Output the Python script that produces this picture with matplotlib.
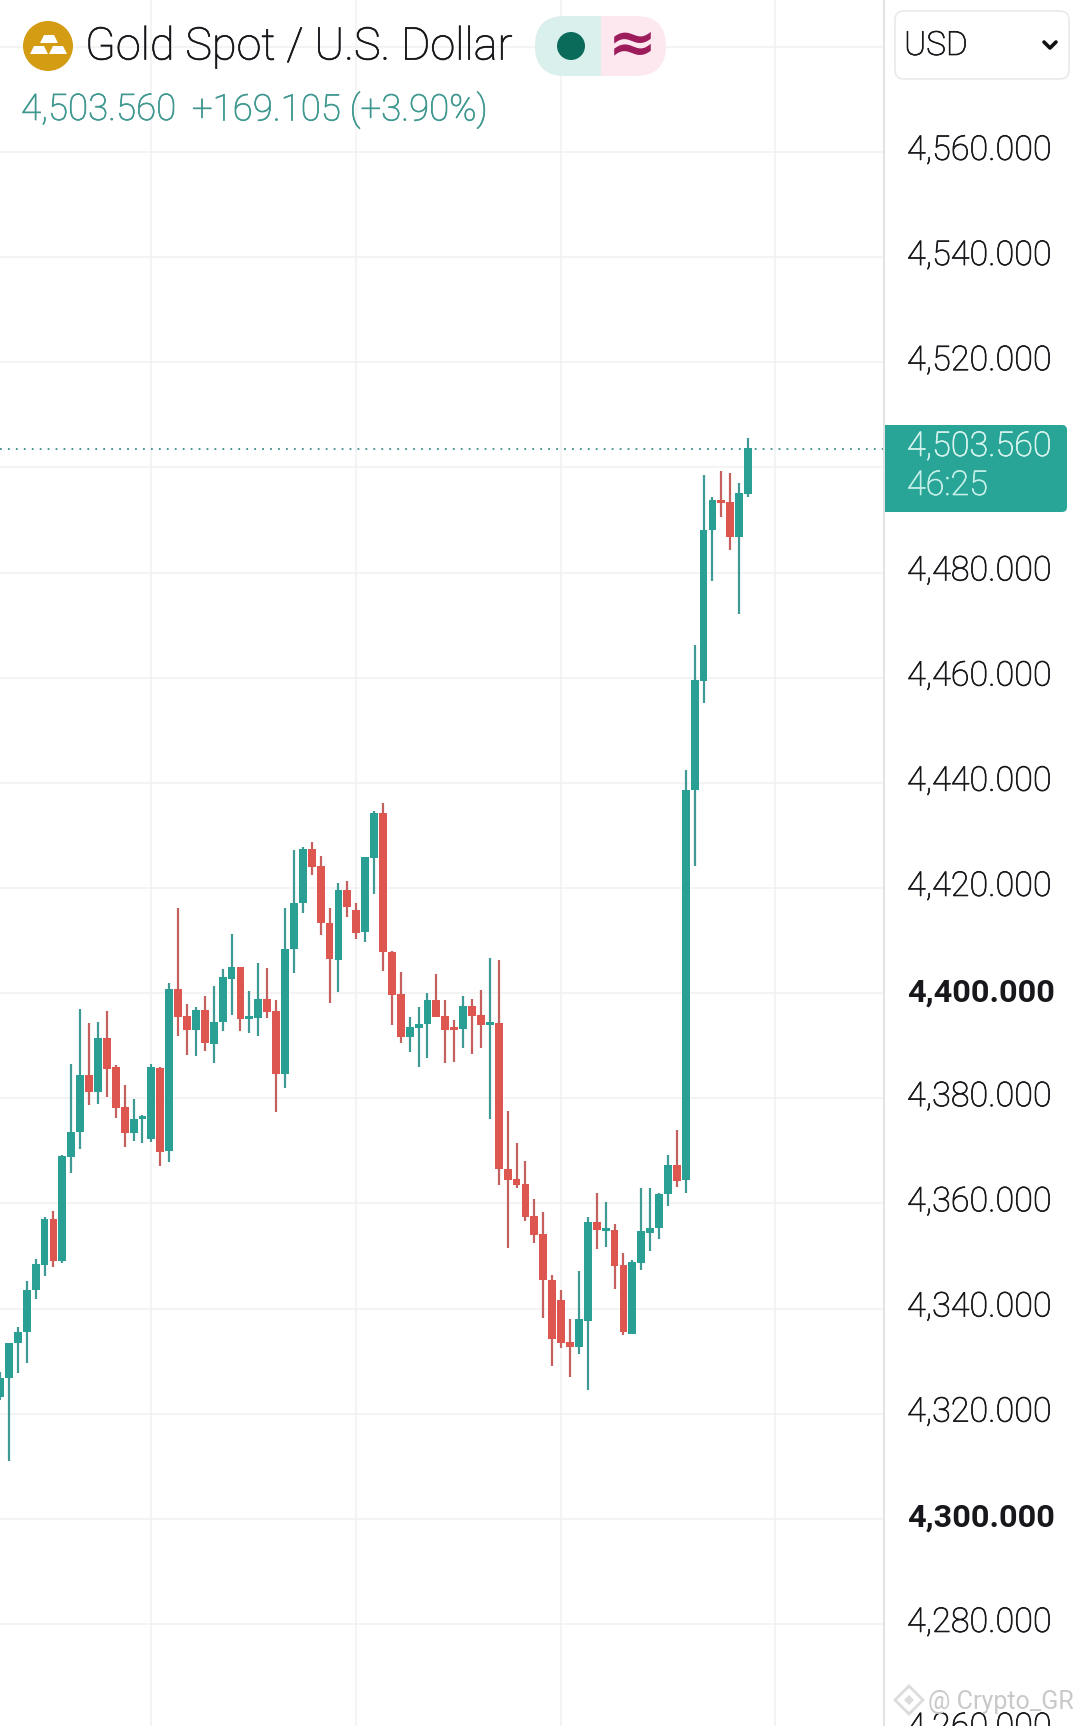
import matplotlib
matplotlib.use("Agg")
import matplotlib.pyplot as plt
import matplotlib.patheffects as pe
from matplotlib.patches import Circle, Ellipse, FancyBboxPatch, Polygon, Rectangle

plt.rcParams['font.family'] = ['Roboto', 'DejaVu Sans']

# one entry per candle
opens = [4323.2, 4326.7, 4333.4, 4335.5, 4343.5, 4348.2, 4357.0, 4349.1, 4368.9, 4373.5,
         4384.4, 4381.1, 4391.4, 4385.9, 4378.3, 4373.3, 4376.0, 4372.2, 4385.8, 4370.0,
         4400.7, 4395.6, 4392.9, 4396.8, 4390.4, 4394.6, 4402.7, 4404.9, 4395.0, 4395.3,
         4398.8, 4396.6, 4384.7, 4408.4, 4417.2, 4427.4, 4424.1, 4413.4, 4406.3, 4419.7,
         4415.9, 4411.7, 4425.7, 4434.3, 4407.8, 4399.8, 4391.7, 4393.4, 4394.2, 4398.7,
         4395.6, 4393.3, 4393.1, 4397.5, 4395.9, 4393.9, 4394.4, 4366.5, 4364.6, 4363.7,
         4357.6, 4354.1, 4345.4, 4341.7, 4333.7, 4332.7, 4337.7, 4356.5, 4354.8, 4354.9,
         4348.3, 4335.2, 4348.7, 4354.4, 4355.4, 4361.7, 4367.3, 4364.4, 4438.6, 4459.3,
         4488.0, 4493.8, 4493.4, 4486.7, 4494.9]
closes = [4326.7, 4333.4, 4335.5, 4343.5, 4348.4, 4357.0, 4349.1, 4369.0, 4373.5, 4384.4,
          4381.1, 4391.4, 4385.6, 4378.2, 4373.3, 4376.0, 4376.6, 4385.9, 4369.8, 4400.7,
          4395.5, 4392.9, 4396.8, 4390.6, 4394.6, 4403.0, 4404.9, 4395.0, 4395.4, 4398.8,
          4396.5, 4384.7, 4408.3, 4417.2, 4427.5, 4424.0, 4413.4, 4406.5, 4419.7, 4416.4,
          4411.5, 4425.8, 4434.3, 4407.9, 4399.7, 4391.7, 4393.5, 4394.2, 4398.7, 4395.4,
          4393.0, 4393.0, 4397.5, 4395.7, 4394.0, 4394.4, 4366.5, 4364.5, 4363.5, 4357.5,
          4354.0, 4345.4, 4334.3, 4333.5, 4332.7, 4338.0, 4356.5, 4354.9, 4355.1, 4348.1,
          4335.5, 4348.8, 4354.7, 4355.4, 4361.8, 4367.3, 4364.3, 4438.6, 4459.6, 4488.1,
          4493.8, 4493.2, 4486.8, 4495.1, 4503.6]
highs = [4328.0, 4333.4, 4336.5, 4345.2, 4349.5, 4357.5, 4358.6, 4369.2, 4386.6, 4396.9,
         4394.4, 4394.6, 4396.6, 4386.3, 4382.6, 4379.8, 4376.8, 4386.6, 4386.0, 4401.9,
         4416.2, 4398.0, 4397.4, 4399.5, 4401.4, 4404.5, 4411.2, 4404.9, 4400.4, 4405.7,
         4404.7, 4398.7, 4416.1, 4427.3, 4427.7, 4428.7, 4426.0, 4416.1, 4420.9, 4421.3,
         4417.1, 4425.9, 4434.6, 4436.1, 4408.0, 4404.0, 4395.4, 4397.4, 4400.1, 4403.6,
         4398.7, 4394.9, 4399.4, 4398.9, 4400.5, 4406.7, 4406.3, 4377.6, 4371.4, 4368.0,
         4360.8, 4358.4, 4346.4, 4343.5, 4338.1, 4347.1, 4357.5, 4361.9, 4360.2, 4356.0,
         4350.5, 4349.2, 4363.0, 4362.9, 4361.9, 4369.3, 4373.9, 4442.4, 4466.2, 4498.6,
         4494.3, 4499.3, 4498.9, 4497.0, 4505.5]
lows = [4322.6, 4311.0, 4327.8, 4329.7, 4341.9, 4346.1, 4348.0, 4348.6, 4365.7, 4370.3,
        4378.8, 4379.0, 4380.3, 4376.3, 4370.8, 4371.9, 4371.4, 4371.6, 4367.2, 4367.9,
        4391.9, 4388.2, 4388.1, 4388.9, 4386.8, 4392.7, 4395.8, 4392.7, 4392.5, 4391.9,
        4395.3, 4377.3, 4381.9, 4403.8, 4415.3, 4422.5, 4411.1, 4398.2, 4400.2, 4414.5,
        4410.3, 4409.8, 4418.8, 4404.3, 4393.9, 4390.5, 4388.8, 4386.0, 4387.7, 4395.4,
        4386.8, 4386.9, 4389.6, 4388.5, 4389.6, 4376.1, 4363.5, 4351.6, 4363.0, 4356.7,
        4352.5, 4338.3, 4329.1, 4332.5, 4327.0, 4331.3, 4324.6, 4351.4, 4351.8, 4343.8,
        4335.0, 4335.2, 4347.3, 4351.0, 4353.3, 4359.6, 4363.2, 4362.0, 4424.2, 4455.1,
        4478.3, 4490.6, 4484.3, 4472.2, 4494.4]

price_ticks = [4560, 4540, 4520, 4480, 4460, 4440, 4420, 4400, 4380, 4360, 4340, 4320, 4300, 4280, 4260]
grid_prices = [4580, 4560, 4540, 4520, 4500, 4480, 4460, 4440, 4420, 4400, 4380, 4360, 4340, 4320, 4300, 4280]
bold_prices = [4400, 4300]
time_grid = [17, 40, 63, 87]
last_price = 4503.56

UP = "#2a9f94"
DOWN = "#de5650"
UP_WICK = "#3f9a93"
DOWN_WICK = "#c4615f"
GRID = "#f1f1f1"
INK = "#17171c"
SERIES_TEXT = "#3f9890"


def thin_text(color):
    # Roboto Light is a bit too thin on its own, fatten it slightly
    return {"color": color, "fontweight": "light",
            "path_effects": [pe.withStroke(linewidth=0.5, foreground=color)]}


fig = plt.figure(figsize=(10.8, 17.26), dpi=100, facecolor="white")

# chart pane: 8.906 px per candle, 5.257 px per price unit
ax = fig.add_axes([0, 0, 884 / 1080, 1])
ax.set_xlim(0, 884 / 8.906)
ax.set_ylim(4260.6, 4588.9)
for side in ax.spines.values():
    side.set_visible(False)
ax.set_xticks(time_grid)
ax.set_yticks(grid_prices)
ax.tick_params(length=0, labelleft=False, labelbottom=False)
ax.grid(True, color=GRID, linewidth=1.1)
ax.set_axisbelow(True)

xs = list(range(len(opens)))
for i in xs:
    up = closes[i] >= opens[i]
    ax.vlines(i, lows[i], highs[i], color=UP_WICK if up else DOWN_WICK, linewidth=1.6, zorder=2)
    ax.bar(i, max(abs(closes[i] - opens[i]), 0.6), bottom=min(opens[i], closes[i]), width=0.88,
           color=UP if up else DOWN, linewidth=0, zorder=3)

ax.axhline(last_price, color="#3b8f88", linewidth=1.3, linestyle=(0, (1, 3.4)), zorder=1)

# price scale labels
label_trans = ax.get_yaxis_transform()
for p in price_ticks:
    if p in bold_prices:
        ax.text(907 / 884, p + 0.2, "{:,.3f}".format(p), transform=label_trans, ha="left", va="center",
                fontsize=23.4, color=INK, clip_on=False, fontweight="bold")
    else:
        ax.text(907 / 884, p + 0.2, "{:,.3f}".format(p), transform=label_trans, ha="left", va="center",
                fontsize=24.6, clip_on=False, **thin_text(INK))

# everything else is interface furniture, laid out in pixels
ui = fig.add_axes([0, 0, 1, 1], facecolor="none")
ui.set_xlim(0, 1080)
ui.set_ylim(1726, 0)
ui.axis("off")

ui.add_patch(Rectangle((883, 0), 2, 1726, color="#e2e2e2", linewidth=0))

ui.add_patch(FancyBboxPatch((889, 425), 178, 87, boxstyle="round,pad=0,rounding_size=5", color="#29a598", linewidth=0))
ui.add_patch(Rectangle((885, 425), 20, 87, color="#29a598", linewidth=0))
ui.text(907, 447, "4,503.560", fontsize=24.6, va="center", ha="left", **thin_text("#d6f4ee"))
ui.text(907, 486, "46:25", fontsize=24.6, va="center", ha="left", **thin_text("#c4f0e8"))

ui.add_patch(FancyBboxPatch((895, 11), 174, 68, boxstyle="round,pad=0,rounding_size=9",
                            facecolor="white", edgecolor="#ebebeb", linewidth=1.3))
ui.text(904, 46, "USD", fontsize=24, va="center", ha="left", **thin_text(INK))
ui.plot([1044, 1050, 1056], [42, 48, 42], color="#111111", linewidth=2.6, solid_capstyle="round")

# gold icon
ui.add_patch(Ellipse((48, 46), 50, 50, color="#d39c12", linewidth=0))
ui.add_patch(Polygon([[44, 35], [54, 35], [58, 43], [40, 43]], color="white", linewidth=0))
ui.add_patch(Polygon([[34, 46], [44, 46], [48, 54], [30, 54]], color="white", linewidth=0))
ui.add_patch(Polygon([[53, 46], [63, 46], [67, 54], [49, 54]], color="white", linewidth=0))

ui.text(85, 47, "Gold Spot / U.S. Dollar", fontsize=32.4, va="center", ha="left", **thin_text(INK))
ui.text(21, 110, "4,503.560", fontsize=26.4, va="center", ha="left", **thin_text(SERIES_TEXT))
ui.text(192, 110, "+169.105 (+3.90%)", fontsize=26.4, va="center", ha="left", **thin_text(SERIES_TEXT))

# market status pill
ui.add_patch(FancyBboxPatch((535, 16), 131, 60, boxstyle="round,pad=0,rounding_size=30", color="#fde8f0", linewidth=0))
left_half = FancyBboxPatch((535, 16), 131, 60, boxstyle="round,pad=0,rounding_size=30", color="#d9f0ec", linewidth=0)
ui.add_patch(left_half)
left_half.set_clip_path(Rectangle((535, 16), 66, 60, transform=ui.transData))
ui.add_patch(Circle((571, 46), 14, color="#0b6b5a", linewidth=0))
ui.text(632, 45, "≈", fontsize=42, fontweight="bold", color="#9c1c5c", va="center", ha="center",
        family=["DejaVu Sans"])

# watermark
ui.text(928, 1702, "@ Crypto_GR", fontsize=18, color="#c9c9c9", va="center", ha="left")
ui.add_patch(Polygon([[909, 1686], [923, 1700], [909, 1714], [895, 1700]], facecolor="none",
                     edgecolor="#dcdcdc", linewidth=2))
ui.add_patch(Polygon([[909, 1695], [914, 1700], [909, 1705], [904, 1700]], facecolor="#dcdcdc",
                     edgecolor="none"))

fig.savefig("out.png", dpi=100)
